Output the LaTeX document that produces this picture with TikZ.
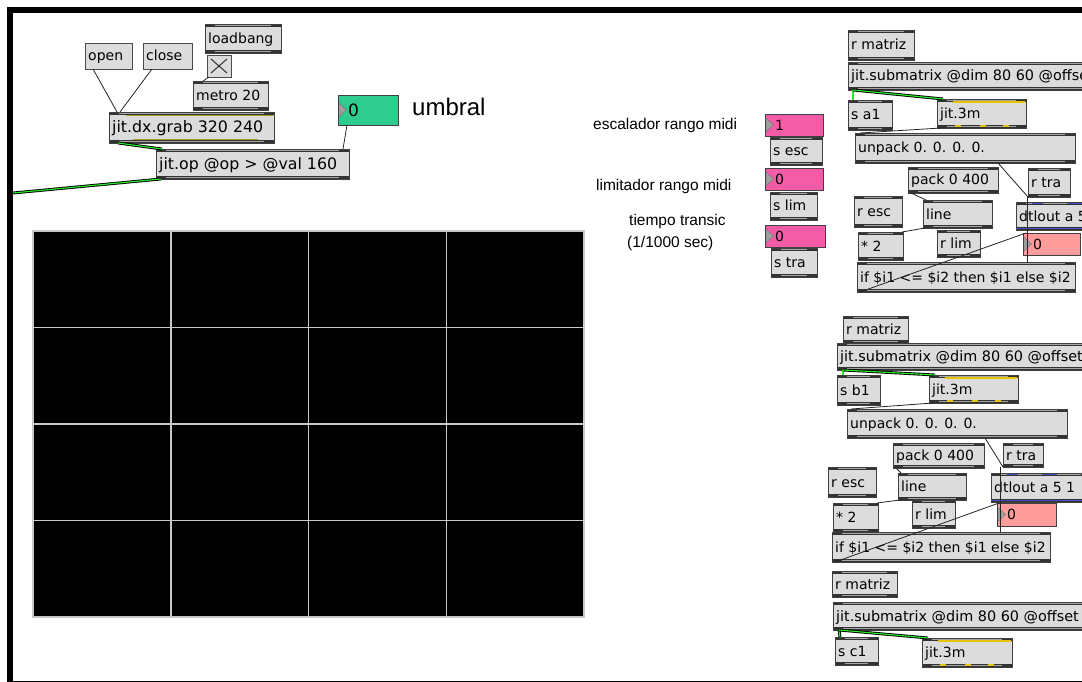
\documentclass[tikz,border=0pt]{standalone}
\usepackage{fontspec}
\newfontfamily\dv{DejaVu Sans}
\newfontfamily\lib{Liberation Sans}
\definecolor{boxgray}{HTML}{DCDCDC}
\definecolor{numgreen}{HTML}{2ECC8E}
\definecolor{numpink}{HTML}{F55CA8}
\definecolor{numred}{HTML}{FF9C9C}
\definecolor{cordgreen}{HTML}{22EE22}
\definecolor{olivel}{HTML}{B09A20}
\definecolor{yel}{HTML}{E6C400}
\definecolor{bluel}{HTML}{4050C8}
\definecolor{gridgray}{HTML}{C8C8C8}
\tikzset{
 objb/.style={draw=black!75, fill=boxgray, line width=0.8pt, inner sep=0pt, outer sep=0pt,
   path picture={
     \fill[black!80] (path picture bounding box.north west) rectangle ([yshift=-2.6pt]path picture bounding box.north east);
     \fill[black!80] (path picture bounding box.south west) rectangle ([yshift=2.6pt]path picture bounding box.south east);
     \draw[gray!70, line width=0.8pt] ([xshift=10pt,yshift=-1.3pt]path picture bounding box.north west) -- ([xshift=-10pt,yshift=-1.3pt]path picture bounding box.north east);
     \draw[gray!70, line width=0.8pt] ([xshift=10pt,yshift=1.3pt]path picture bounding box.south west) -- ([xshift=-10pt,yshift=1.3pt]path picture bounding box.south east);
   }},
 msgb/.style={draw=black!70, fill=boxgray, line width=0.8pt, inner sep=0pt, outer sep=0pt},
 numb/.style={draw=black!75, fill=#1, line width=0.8pt, inner sep=0pt, outer sep=0pt,
   path picture={
     \fill[gray!75, draw=black!55, line width=0.4pt] ([xshift=1pt,yshift=7pt]path picture bounding box.west) -- ([xshift=8.5pt]path picture bounding box.west) -- ([xshift=1pt,yshift=-7pt]path picture bounding box.west) -- cycle;
   }},
 lbl/.style={font=\lib\fontsize{15.5}{21}\selectfont, inner sep=0pt, anchor=base west, align=left},
 cord/.style={line width=0.8pt, black!85},
 mcord/.style={draw=black, double=cordgreen, double distance=1.1pt, line width=0.9pt},
}
% #1 font size, #2 name, #3 x, #4 y, #5 w, #6 h, #7 text
\newcommand{\mobj}[7][14]{\node[objb, minimum width=#5pt, minimum height=#6pt, anchor=north west] (#2) at (#3,#4) {};
 \node[font=\dv\fontsize{#1}{#1}\selectfont, inner sep=0pt, anchor=base west] (#2t) at ([xshift=3pt,yshift=-5pt]#2.west) {#7};}
\newcommand{\mmsg}[6]{\node[msgb, minimum width=#4pt, minimum height=#5pt, anchor=north west] (#1) at (#2,#3) {};
 \node[font=\dv\fontsize{14}{14}\selectfont, inner sep=0pt, anchor=base west] (#1t) at ([xshift=3pt,yshift=-5pt]#1.west) {#6};}
% #1 font size, #2 name, #3 x, #4 y, #5 w, #6 h, #7 colour, #8 value
\newcommand{\mnum}[8][14]{\node[numb=#7, minimum width=#5pt, minimum height=#6pt, anchor=north west] (#2) at (#3,#4) {};
 \node[font=\dv\fontsize{#1}{#1}\selectfont, inner sep=0pt, anchor=base west] (#2t) at ([xshift=10pt,yshift=-0.36*#1pt]#2.west) {#8};}
\newcommand{\threem}[1]{%
 \draw[yel, line width=1.5pt] ([xshift=16pt,yshift=-3pt]#1.north west) -- ([xshift=-1pt,yshift=-3pt]#1.north east);
 \foreach \dx in {18,43,66} \draw[yel, line width=1.5pt] ([xshift=\dx pt,yshift=2.2pt]#1.south west) -- ++(6pt,0pt);}
\newcommand{\dtl}[1]{%
 \draw[bluel, line width=1.5pt] ([xshift=16pt,yshift=-1.3pt]#1.north west) -- ++(11pt,0pt);
 \draw[bluel, line width=1.5pt] ([xshift=51pt,yshift=-1.3pt]#1.north west) -- ++(15pt,0pt);
 \draw[bluel, line width=1.5pt] ([yshift=1.3pt]#1.south west) -- ([yshift=1.3pt]#1.south east);}
\begin{document}
\begin{tikzpicture}[x=1pt,y=-1pt]
\useasboundingbox (0,0) rectangle (1082,682);
\clip (0,0) rectangle (1082,682);
\fill[white] (0,0) rectangle (1082,682);
% frame
\fill[black] (7,7) rectangle (1082,13);
\fill[black] (7,7) rectangle (13,682);
\fill[black] (13,680.5) rectangle (1082,682);
% video grid
\fill[black] (33,231) rectangle (584,617);
\draw[gridgray, line width=1.5pt] (33,231) rectangle (584,617);
\foreach \x in {170.75,308.5,446.25} \draw[gridgray, line width=1.5pt] (\x,231) -- (\x,617);
\foreach \y in {327.5,424,520.5} \draw[gridgray, line width=1.5pt] (33,\y) -- (584,\y);
% left patch
\mmsg{open}{85}{43}{47}{26}{open}
\mmsg{close}{143}{43}{49}{26}{close}
\mobj{loadbang}{205}{24}{76}{29}{loadbang}
\node[msgb, minimum width=24pt, minimum height=22pt, anchor=north west,
  path picture={\draw[black!80, line width=1pt] ([shift={(4pt,-4pt)}]path picture bounding box.north west) -- ([shift={(-4pt,4pt)}]path picture bounding box.south east);
  \draw[black!80, line width=1pt] ([shift={(-4pt,-4pt)}]path picture bounding box.north east) -- ([shift={(4pt,4pt)}]path picture bounding box.south west);}] (tog) at (207,55) {};
\mobj{metro}{193}{81}{75}{29}{metro 20}
\mobj[15.8]{grab}{109}{112}{165}{31}{jit.dx.grab 320 240}
\draw[olivel, line width=1.6pt] ([xshift=17pt,yshift=-3.4pt]grab.north west) -- ([xshift=-1.5pt,yshift=-3.4pt]grab.north east);
\draw[olivel, line width=1.6pt] ([xshift=24pt,yshift=3.4pt]grab.south west) -- ([xshift=-16pt,yshift=3.4pt]grab.south east);
\mobj[15.8]{jitop}{156}{149}{193}{30}{jit.op @op > @val 160}
\mnum[17]{umb}{338}{95}{60}{30}{numgreen}{0}
\node[font=\lib\fontsize{24}{28}\selectfont, inner sep=0pt, anchor=base west] (umbral) at (412,116) {umbral};
\coordinate (leftedge) at (13,193);
\draw[cord] ([xshift=8pt]open.south west) -- ([xshift=8pt]grab.north west);
\draw[cord] ([xshift=9pt]close.south west) -- ([xshift=11pt]grab.north west);
\draw[cord] ([xshift=2pt]tog.south west) -- ([xshift=10pt]metro.north west);
\draw[cord] ([xshift=9pt]umb.south west) -- ([xshift=-6pt]jitop.north east);
\draw[mcord] ([xshift=9pt]grab.south west) -- ([xshift=6pt]jitop.north west);
\draw[mcord] ([xshift=5pt]jitop.south west) -- (leftedge);
% middle controls
\node[lbl] (lesc) at (593,130) {escalador rango midi};
\node[lbl] (llim) at (596,190) {limitador rango midi};
\node[lbl] (ltra) at (627,247) {\hspace{2pt}tiempo transic\\(1/1000 sec)};
\mnum{n1}{765}{114}{58}{22}{numpink}{1}
\mobj{sesc}{770}{137}{52}{28}{s esc}
\mnum{n2}{765}{168}{58}{22}{numpink}{0}
\mobj{slim}{770}{192}{47}{28}{s lim}
\mnum{n3}{765}{225}{60}{22}{numpink}{0}
\mobj{stra}{771}{248}{46}{29}{s tra}
% block A
\mobj{rmatA}{848}{30}{66}{30}{r matriz}
\mobj[14.4]{subA}{848}{62}{260}{28}{jit.submatrix @dim 80 60 @offset 0 0}
\mobj{sa1}{848}{100}{44}{30}{s a1}
\mobj{j3mA}{937}{99}{89}{29}{jit.3m}
\threem{j3mA}
\mobj{unpA}{855}{133}{220}{30}{unpack 0. 0. 0. 0.}
\mobj{packA}{908}{167}{90}{26}{pack 0 400}
\mobj{rtraA}{1028}{168}{42}{29}{r tra}
\mobj{rescA}{854}{196}{48}{31}{r esc}
\mobj{lineA}{923}{200}{69}{28}{line}
\mobj{dtlA}{1016}{202}{100}{28}{dtlout a 5 1}
\dtl{dtlA}
\mnum{numA}{1023}{233}{57}{22}{numred}{0}
\mobj{mulA}{858}{232}{45}{28}{* 2}
\mobj{rlimA}{937}{230}{43}{27}{r lim}
\mobj{ifA}{857}{262}{218}{30}{if \$i1 <= \$i2 then \$i1 else \$i2}
\draw[mcord] ([xshift=5pt]subA.south west) -- ([xshift=5pt]sa1.north west);
\draw[mcord] ([xshift=5pt]subA.south west) -- ([xshift=6pt]j3mA.north west);
\draw[cord] ([xshift=4pt]j3mA.south west) -- ([xshift=5pt]unpA.north west);
\draw[cord] ([xshift=143pt]unpA.south west) -- (rtraA.south west);
\draw[cord] ([xshift=-1pt]rtraA.south west) -- ([xshift=170pt]ifA.north west);
\draw[cord] ([xshift=3pt]packA.south west) -- ([xshift=3pt]lineA.north west);
\draw[cord] ([xshift=2pt]lineA.south west) -- ([xshift=-1pt]mulA.north east);
\draw[cord] ([xshift=3pt]ifA.south west) -- ([xshift=3pt]numA.north west);
% block B
\mobj{rmatB}{843}{316}{65}{27}{r matriz}
\mobj[14.4]{subB}{837}{343}{260}{27}{jit.submatrix @dim 80 60 @offset 0 0}
\mobj{sb1}{837}{375}{43}{30}{s b1}
\mobj{j3mB}{929}{375}{89}{28}{jit.3m}
\threem{j3mB}
\mobj{unpB}{847}{409}{220}{29}{unpack 0. 0. 0. 0.}
\mobj{packB}{893}{443}{91}{25}{pack 0 400}
\mobj{rtraB}{1003}{443}{40}{24}{r tra}
\mobj{rescB}{828}{467}{48}{30}{r esc}
\mobj{lineB}{898}{473}{68}{27}{line}
\mobj{dtlB}{991}{473}{100}{29}{dtlout a 5 1}
\dtl{dtlB}
\mnum{numB}{997}{503}{59}{23}{numred}{0}
\mobj{mulB}{833}{503}{45}{29}{* 2}
\mobj{rlimB}{912}{500}{43}{28}{r lim}
\mobj{ifB}{832}{532}{218}{30}{if \$i1 <= \$i2 then \$i1 else \$i2}
\draw[mcord] ([xshift=6pt]subB.south west) -- ([xshift=6pt]sb1.north west);
\draw[mcord] ([xshift=6pt]subB.south west) -- ([xshift=6pt]j3mB.north west);
\draw[cord] ([xshift=4pt]j3mB.south west) -- ([xshift=4pt]unpB.north west);
\draw[cord] ([xshift=138pt]unpB.south west) -- (rtraB.south west);
\draw[cord] ([xshift=-3pt]rtraB.south west) -- ([xshift=168pt]ifB.north west);
\draw[cord] ([xshift=3pt]packB.south west) -- ([xshift=3pt]lineB.north west);
\draw[cord] ([xshift=2pt]lineB.south west) -- ([xshift=-1pt]mulB.north east);
\draw[cord] ([xshift=3pt]ifB.south west) -- ([xshift=2pt]numB.north west);
% block C
\mobj{rmatC}{832}{571}{65}{26}{r matriz}
\mobj[14.4]{subC}{833}{602}{260}{28}{jit.submatrix @dim 80 60 @offset 0 0}
\mobj{sc1}{835}{637}{43}{28}{s c1}
\mobj{j3mC}{922}{638}{90}{29}{jit.3m}
\threem{j3mC}
\draw[mcord] ([xshift=6pt]subC.south west) -- ([xshift=5pt]sc1.north west);
\draw[mcord] ([xshift=6pt]subC.south west) -- ([xshift=6pt]j3mC.north west);
\end{tikzpicture}
\end{document}
